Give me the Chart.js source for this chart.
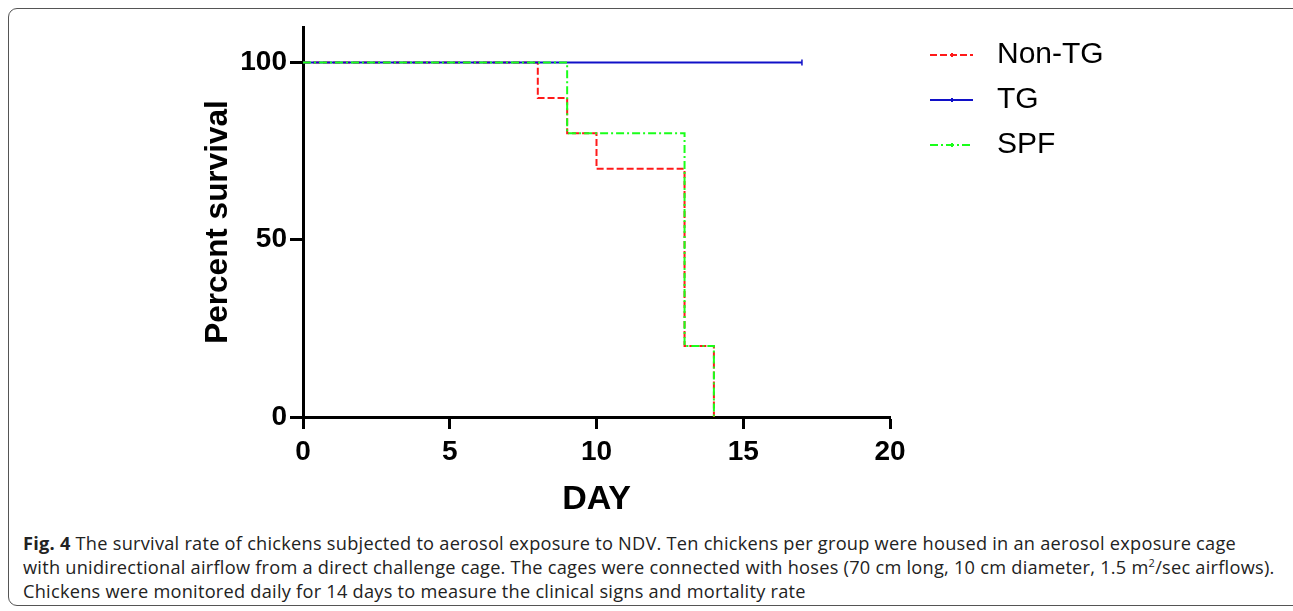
<!DOCTYPE html>
<html>
<head>
<meta charset="utf-8">
<script src="https://cdn.jsdelivr.net/npm/chart.js@4.4.1/dist/chart.umd.min.js"></script>
<style>
  html, body { margin: 0; padding: 0; background: #fff; overflow: hidden; }
  #frame { position: absolute; left: 8px; top: 8px; width: 1295px; height: 596px; border: 1.5px solid #555; border-radius: 9px; }
  #wrap { position: absolute; left: 0; top: 0; width: 1293px; height: 520px; }
  #caption { position: absolute; left: 23px; top: 531px; font-family: "Open Sans"; font-size: 18.2px; letter-spacing: 0.25px; line-height: 24px; color: #222; white-space: nowrap; }
</style>
</head>
<body>
<div id="frame"></div>
<div id="wrap"><canvas id="chart" width="1293" height="520"></canvas></div>
<div id="caption"><b>Fig. 4</b> The survival rate of chickens subjected to aerosol exposure to NDV. Ten chickens per group were housed in an aerosol exposure cage<br>with unidirectional airflow from a direct challenge cage. The cages were connected with hoses (70 cm long, 10 cm diameter, 1.5 m<sup style="font-size:11px;line-height:0">2</sup>/sec airflows).<br>Chickens were monitored daily for 14 days to measure the clinical signs and mortality rate</div>
<script>
// survival curves (Kaplan-Meier steps), days vs percent survival
const nonTgDays = [0, 8, 9, 10, 13, 14];
const nonTgSurvival = [100, 90, 80, 70, 20, 0];
const tgDays = [0, 17];
const tgSurvival = [100, 100];
const spfDays = [0, 9, 13, 14];
const spfSurvival = [100, 80, 20, 0];

const xTicks = [0, 5, 10, 15, 20];
const yTicks = [0, 50, 100];
const legendOrder = ['Non-TG', 'TG', 'SPF'];

const toPoints = (xs, ys) => xs.map((x, i) => ({ x: x, y: ys[i] }));

const AXIS_FONT = '"Liberation Sans", Arial, sans-serif';

// legend drawn to the right of the plot, Prism style
const sideLegend = {
    id: 'sideLegend',
    afterDraw(chart) {
        const ctx = chart.ctx;
        const left = chart.chartArea.right + 40;
        legendOrder.forEach((label, i) => {
            const ds = chart.data.datasets.find(d => d.label === label);
            const y = chart.chartArea.top + 28 + i * 45;
            ctx.save();
            ctx.strokeStyle = ds.borderColor;
            ctx.lineWidth = 2;
            ctx.setLineDash(ds.borderDash || []);
            ctx.beginPath();
            ctx.moveTo(left, y);
            ctx.lineTo(left + 43, y);
            ctx.stroke();
            ctx.setLineDash([]);
            ctx.beginPath();
            ctx.moveTo(left + 22, y - 2);
            ctx.lineTo(left + 22, y + 2);
            ctx.stroke();
            ctx.fillStyle = '#000';
            ctx.font = '30px ' + AXIS_FONT;
            ctx.textBaseline = 'middle';
            ctx.fillText(label, left + 67, y);
            ctx.restore();
        });
    }
};

new Chart(document.getElementById('chart'), {
    type: 'line',
    data: {
        datasets: [
            {
                label: 'Non-TG',
                data: toPoints(nonTgDays, nonTgSurvival),
                borderColor: '#ff1a1a',
                borderWidth: 2,
                borderDash: [7, 3],
                stepped: true,
                pointRadius: 0,
                order: 2
            },
            {
                label: 'TG',
                data: toPoints(tgDays, tgSurvival),
                borderColor: '#1010c8',
                borderWidth: 2,
                stepped: true,
                pointStyle: 'line',
                rotation: 90,
                pointRadius: [0, 3],
                pointBorderWidth: 1.5,
                order: 1
            },
            {
                label: 'SPF',
                data: toPoints(spfDays, spfSurvival),
                borderColor: '#1aff1a',
                borderWidth: 2,
                borderDash: [8, 3, 2, 3],
                stepped: true,
                pointRadius: 0,
                order: 0
            }
        ]
    },
    options: {
        responsive: false,
        animation: false,
        clip: false,
        layout: { padding: { left: 199, top: 27, right: 403, bottom: 0 } },
        plugins: {
            legend: { display: false },
            tooltip: { enabled: false }
        },
        scales: {
            x: {
                type: 'linear',
                min: 0,
                max: 20,
                afterFit: s => { s.height = 103; },
                afterBuildTicks: s => { s.ticks = xTicks.map(v => ({ value: v })); },
                border: { display: true, color: '#000', width: 3 },
                grid: { drawOnChartArea: false, color: '#000', tickColor: '#000', tickLength: 12, tickWidth: 3 },
                ticks: { color: '#000', padding: 6, maxRotation: 0, font: { family: AXIS_FONT, size: 28, weight: 'bold' } },
                title: { display: true, text: 'DAY', color: '#000', padding: 0, font: { family: AXIS_FONT, size: 34, weight: 'bold' } }
            },
            y: {
                type: 'linear',
                min: 0,
                max: 110,
                afterFit: s => { s.width = 104; },
                afterBuildTicks: s => { s.ticks = yTicks.map(v => ({ value: v })); },
                border: { display: true, color: '#000', width: 3 },
                grid: { drawOnChartArea: false, color: '#000', tickColor: '#000', tickLength: 13, tickWidth: 3 },
                ticks: { color: '#000', padding: 3, font: { family: AXIS_FONT, size: 28, weight: 'bold' } },
                title: { display: true, text: 'Percent survival', color: '#000', padding: 0, font: { family: AXIS_FONT, size: 31.5, weight: 'bold' } }
            }
        }
    },
    plugins: [sideLegend]
});
</script>
</body>
</html>
